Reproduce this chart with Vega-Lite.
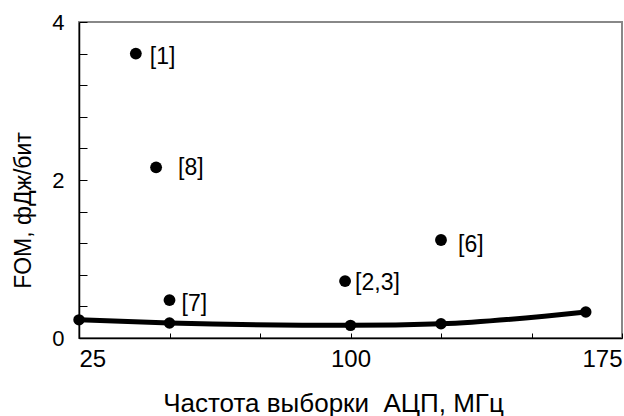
{
  "$schema": "https://vega.github.io/schema/vega-lite/v6.json",
  "width": 543,
  "height": 316,
  "autosize": "none",
  "padding": {"left": 79, "top": 22, "right": 2, "bottom": 78},
  "background": "white",
  "config": {
    "font": "Liberation Sans",
    "view": {"stroke": "#888888", "strokeWidth": 2},
    "axis": {"grid": false, "domainColor": "black", "tickColor": "black", "labelColor": "black", "titleColor": "black", "titleFontWeight": "normal", "labelFont": "Liberation Sans", "titleFont": "Liberation Sans"}
  },
  "datasets": {
    "refs": [
      {"f": 40.7, "fom": 3.6, "label": "[1]"},
      {"f": 46.3, "fom": 2.16, "label": "[8]"},
      {"f": 50, "fom": 0.48, "label": "[7]"},
      {"f": 98.5, "fom": 0.72, "label": "[2,3]"},
      {"f": 125, "fom": 1.24, "label": "[6]"}
    ],
    "curve": [
      {"f": 25, "fom": 0.23},
      {"f": 50, "fom": 0.19},
      {"f": 100, "fom": 0.16},
      {"f": 125, "fom": 0.18},
      {"f": 165, "fom": 0.33}
    ]
  },
  "layer": [
    {
      "data": {"name": "curve"},
      "mark": {"type": "line", "color": "black", "strokeWidth": 5, "interpolate": "monotone", "clip": false},
      "encoding": {
        "x": {"field": "f", "type": "quantitative", "scale": {"domain": [25, 175], "nice": false, "zero": false},
          "axis": {"title": "Частота выборки\u00a0 АЦП, МГц", "values": [25, 50, 75, 100, 125, 150, 175], "tickCount": 7,
            "labelExpr": "datum.value == 25 ? '25' : datum.value == 100 ? '100' : datum.value == 175 ? '175' : ''",
            "labelFlush": true, "labelOverlap": false, "labelFontSize": 24, "labelPadding": 14,
            "tickSize": -5, "domainWidth": 1.5, "tickWidth": 1,
            "titleFontSize": 26, "titleX": 254, "titleY": 73, "titleBaseline": "alphabetic", "titleAnchor": null}},
        "y": {"field": "fom", "type": "quantitative", "scale": {"domain": [0, 4], "nice": false},
          "axis": {"title": "FOM, фДж/бит", "values": [0, 0.4, 0.8, 1.2, 1.6, 2, 2.4, 2.8, 3.2, 3.6, 4], "tickCount": 11,
            "labelExpr": "datum.value == 0 ? '0' : datum.value == 2 ? '2' : datum.value == 4 ? '4' : ''",
            "labelOverlap": false, "labelFontSize": 22, "labelPadding": 23, "labelBaseline": "middle",
            "tickSize": -8, "domainWidth": 1.5, "tickWidth": 1,
            "titleFontSize": 23, "titleX": -56, "titleY": 188, "titleAngle": -90, "titleBaseline": "middle", "titleAlign": "center"}}
      }
    },
    {
      "data": {"name": "curve"},
      "mark": {"type": "point", "filled": true, "color": "black", "opacity": 1, "size": 130, "shape": "circle", "clip": false},
      "encoding": {
        "x": {"field": "f", "type": "quantitative"},
        "y": {"field": "fom", "type": "quantitative"}
      }
    },
    {
      "data": {"name": "refs"},
      "mark": {"type": "point", "filled": true, "color": "black", "opacity": 1, "size": 140, "shape": "circle"},
      "encoding": {
        "x": {"field": "f", "type": "quantitative"},
        "y": {"field": "fom", "type": "quantitative"}
      }
    },
    {
      "data": {"name": "refs"},
      "transform": [{"filter": "datum.label == '[1]'"}],
      "mark": {"type": "text", "align": "left", "baseline": "middle", "dx": 14, "dy": 3, "fontSize": 23, "color": "black"},
      "encoding": {"x": {"field": "f", "type": "quantitative"}, "y": {"field": "fom", "type": "quantitative"}, "text": {"field": "label"}}
    },
    {
      "data": {"name": "refs"},
      "transform": [{"filter": "datum.label == '[8]'"}],
      "mark": {"type": "text", "align": "left", "baseline": "middle", "dx": 22, "dy": 1, "fontSize": 23, "color": "black"},
      "encoding": {"x": {"field": "f", "type": "quantitative"}, "y": {"field": "fom", "type": "quantitative"}, "text": {"field": "label"}}
    },
    {
      "data": {"name": "refs"},
      "transform": [{"filter": "datum.label == '[7]'"}],
      "mark": {"type": "text", "align": "left", "baseline": "middle", "dx": 12, "dy": 4, "fontSize": 23, "color": "black"},
      "encoding": {"x": {"field": "f", "type": "quantitative"}, "y": {"field": "fom", "type": "quantitative"}, "text": {"field": "label"}}
    },
    {
      "data": {"name": "refs"},
      "transform": [{"filter": "datum.label == '[2,3]'"}],
      "mark": {"type": "text", "align": "left", "baseline": "middle", "dx": 10, "dy": 2, "fontSize": 23, "color": "black"},
      "encoding": {"x": {"field": "f", "type": "quantitative"}, "y": {"field": "fom", "type": "quantitative"}, "text": {"field": "label"}}
    },
    {
      "data": {"name": "refs"},
      "transform": [{"filter": "datum.label == '[6]'"}],
      "mark": {"type": "text", "align": "left", "baseline": "middle", "dx": 17, "dy": 5, "fontSize": 23, "color": "black"},
      "encoding": {"x": {"field": "f", "type": "quantitative"}, "y": {"field": "fom", "type": "quantitative"}, "text": {"field": "label"}}
    }
  ]
}
